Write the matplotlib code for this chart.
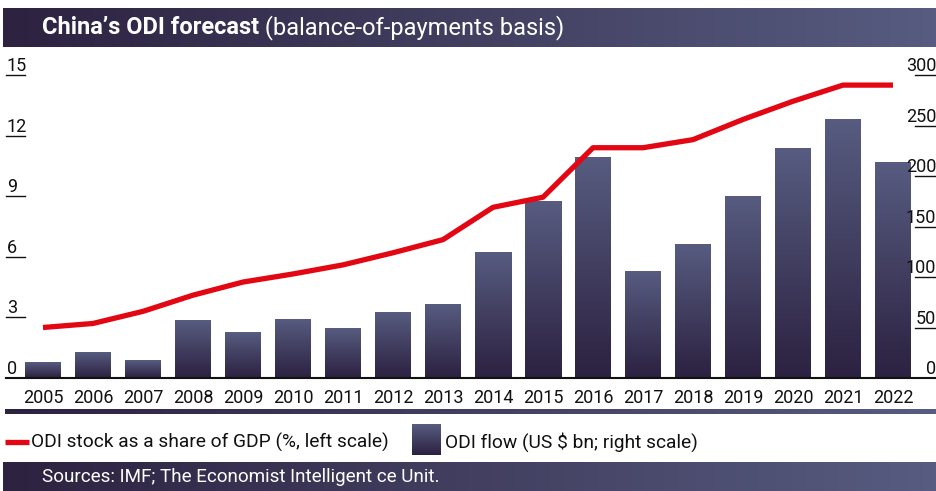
import numpy as np
import matplotlib
matplotlib.use("Agg")
import matplotlib.pyplot as plt
from matplotlib.colors import LinearSegmentedColormap
from matplotlib.lines import Line2D
import matplotlib.transforms as mtransforms

plt.rcParams['font.family'] = ['Roboto', 'DejaVu Sans']

# Data
years = ['2005', '2006', '2007', '2008', '2009', '2010', '2011', '2012', '2013',
         '2014', '2015', '2016', '2017', '2018', '2019', '2020', '2021', '2022']
odi_share = [2.5, 2.7, 3.3, 4.1, 4.75, 5.15, 5.6, 6.2, 6.85,
             8.45, 8.95, 11.4, 11.4, 11.8, 12.8, 13.7, 14.5, 14.5]
odi_flow = [15, 25, 17, 57, 45, 58, 49, 65, 73,
            124, 175, 218, 105, 132, 180, 227, 256, 213]
left_ticks = [0, 3, 6, 9, 12, 15]
right_ticks = [0, 50, 100, 150, 200, 250, 300]

title_bold = "China\u2019s ODI forecast"
title_rest = " (balance-of-payments basis)"
source = "Sources: IMF; The Economist Intelligent ce Unit."
line_label = "ODI stock as a share of GDP (%, left scale)"
bar_label = "ODI flow (US $ bn; right scale)"

RED = '#e30613'
INK = '#111111'
bar_cmap = LinearSegmentedColormap.from_list('bar', ['#2c2140', '#575c80'])
band_cmap = LinearSegmentedColormap.from_list('band', ['#2d2240', '#575c80'])
hgrad = np.linspace(0, 1, 256).reshape(1, -1)
vgrad = np.linspace(0, 1, 256).reshape(-1, 1)

W, H = 937, 491
fig = plt.figure(figsize=(W / 100, H / 100), dpi=100)

def fx(px):
    return px / W

def fy(py):
    return 1 - py / H

def band_axes(x0, y0, x1, y1):
    b = fig.add_axes([fx(x0), fy(y1), fx(x1 - x0), (y1 - y0) / H])
    b.imshow(hgrad, cmap=band_cmap, aspect='auto')
    b.axis('off')
    return b

# title band
band_axes(3, 8, 937, 47)
t1 = fig.text(fx(42), fy(28), title_bold, color='white', fontsize=17,
              fontweight='bold', va='center', ha='left')
fig.add_artist(plt.Annotation(title_rest, xy=(1, 0), xycoords=t1, va='bottom',
                              ha='left', color='white', fontsize=17))

# footer band
band_axes(3, 462, 937, 491)
fig.text(fx(42), fy(477), source, color='white', fontsize=13.6, va='center', ha='left')

# rule under the year labels
band_axes(5, 409, 937, 414)

# main axes
ax = fig.add_axes([fx(6), fy(378), fx(931), 303 / H])
ax2 = ax.twinx()
x = np.arange(len(years))

bars = ax2.bar(x, odi_flow, width=0.72, color='#3e3658', zorder=1)
for b in bars:
    ax2.imshow(vgrad, cmap=bar_cmap, origin='lower', aspect='auto', zorder=2,
               extent=[b.get_x(), b.get_x() + b.get_width(), 0, b.get_height()])

ax.plot(x, odi_share, color=RED, lw=3.8, solid_capstyle='butt', zorder=3)
ax.set_zorder(ax2.get_zorder() + 1)
ax.patch.set_visible(False)

ax.set_xlim(-0.74, 17.88)
ax.set_ylim(0, 15)
ax2.set_ylim(0, 300)

for a in (ax, ax2):
    for s in a.spines.values():
        s.set_visible(False)
    a.set_yticks([])
ax.spines['bottom'].set_visible(True)
ax.spines['bottom'].set_linewidth(1.5)
ax.spines['bottom'].set_color(INK)

ax.set_xticks(x)
ax.set_xticklabels(years, fontsize=13, color=INK)
ax.tick_params(axis='x', length=0, pad=8)

tl = mtransforms.blended_transform_factory(ax.transAxes, ax.transData)
for v in left_ticks[1:]:
    ax.add_line(Line2D([0, 19 / 931], [v, v], transform=tl, color=INK,
                       lw=1, clip_on=False))
for v in left_ticks:
    ax.text(0.001, v, str(v), transform=tl, fontsize=13, color=INK,
            ha='left', va='bottom', clip_on=False)

tr = mtransforms.blended_transform_factory(ax2.transAxes, ax2.transData)
for v in right_ticks[1:]:
    ax2.add_line(Line2D([909 / 931, 1.0], [v, v], transform=tr, color=INK,
                        lw=1, clip_on=False))
for v in right_ticks:
    ax2.text(0.999, v, str(v), transform=tr, fontsize=13, color=INK,
             ha='right', va='bottom', clip_on=False)

# legend
fig.add_artist(Line2D([fx(5), fx(29)], [fy(442), fy(442)], color=RED, lw=3.8,
                      solid_capstyle='butt'))
fig.text(fx(31), fy(442), line_label, fontsize=13.8, color=INK,
         va='center', ha='left')
sq = fig.add_axes([fx(412), fy(455), fx(29), 31 / H])
sq.imshow(vgrad, cmap=bar_cmap, origin='lower', aspect='auto')
sq.axis('off')
fig.text(fx(445), fy(442), bar_label, fontsize=13.8, color=INK,
         va='center', ha='left')

fig.savefig('out.png', dpi=100)
